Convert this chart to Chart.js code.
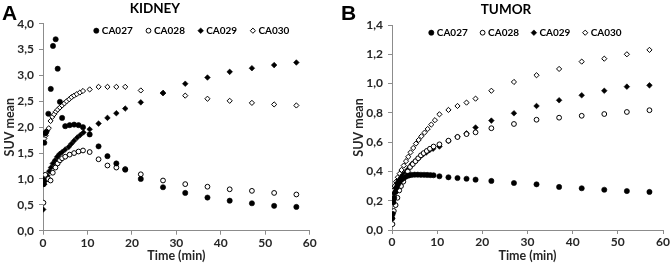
<!DOCTYPE html>
<html><head><meta charset="utf-8">
<script src="https://cdn.jsdelivr.net/npm/chart.js@4.4.1/dist/chart.umd.min.js"></script>
<style>
html,body{margin:0;padding:0;background:#fff;width:671px;height:265px;overflow:hidden;position:relative}
canvas{position:absolute;top:0}
.letter{position:absolute;z-index:2;font-family:'Liberation Sans',Arial,sans-serif;font-weight:bold;font-size:21px;line-height:21px;color:#000}
</style></head><body>
<div class="letter" style="left:2px;top:2px">A</div>
<div class="letter" style="left:341px;top:2px">B</div>
<canvas id="cA" width="335" height="265" style="left:0"></canvas>
<canvas id="cB" width="322" height="265" style="left:349px"></canvas>
<script>
// ---------- DATA ----------
const seriesNames = ['CA027', 'CA028', 'CA029', 'CA030'];

// Panel A - KIDNEY
const kidneyT027 = [0.1, 0.3, 0.5, 0.75, 1.2, 1.75, 2.25, 2.85, 3.3, 3.8, 4.3, 5, 6, 7, 8, 9, 10.5, 12.5, 14.5, 16.5, 18.5, 22, 27, 32, 37, 42, 47, 52, 57];
const kidneyCA027 = [0.90, 1.70, 1.88, 1.91, 2.26, 2.74, 3.57, 3.70, 3.13, 2.49, 2.18, 2.02, 2.04, 2.05, 2.04, 2.00, 1.86, 1.63, 1.44, 1.30, 1.18, 1.00, 0.84, 0.73, 0.64, 0.58, 0.53, 0.48, 0.46];
const kidneyT028 = [0.1, 0.5, 1.2, 1.7, 2.2, 2.8, 3.3, 3.8, 4.3, 5, 6, 7, 8, 9, 10.5, 12.5, 14.5, 16.5, 18.5, 22, 27, 32, 37, 42, 47, 52, 57];
const kidneyCA028 = [0.54, 1.08, 1.00, 0.97, 1.12, 1.22, 1.30, 1.36, 1.40, 1.43, 1.47, 1.50, 1.53, 1.55, 1.52, 1.38, 1.26, 1.22, 1.19, 1.09, 0.97, 0.90, 0.85, 0.80, 0.77, 0.73, 0.70];
const kidneyT029 = [0.05, 0.15, 0.3, 0.6, 1.0, 1.4, 1.8, 2.2, 2.7, 3.2, 3.7, 4.3, 5, 5.8, 6.4, 7, 7.7, 8.4, 9.1, 10.5, 12.5, 14.5, 16.5, 18.5, 22, 27, 32, 37, 42, 47, 52, 57];
const kidneyCA029 = [0.41, 1.00, 0.90, 0.97, 1.06, 1.15, 1.22, 1.30, 1.36, 1.43, 1.48, 1.52, 1.57, 1.62, 1.68, 1.74, 1.80, 1.85, 1.90, 1.96, 2.07, 2.18, 2.27, 2.36, 2.48, 2.66, 2.84, 2.96, 3.07, 3.14, 3.20, 3.25];
const kidneyT030 = [0.1, 0.3, 0.6, 0.9, 1.3, 1.7, 2.1, 2.5, 2.9, 3.3, 3.8, 4.3, 4.8, 5.3, 5.9, 6.4, 7, 7.6, 8.3, 9, 10.5, 12.5, 14.5, 16.5, 18.5, 22, 27, 32, 37, 42, 47, 52, 57];
const kidneyCA030 = [1.85, 1.78, 1.84, 1.93, 1.98, 2.12, 2.20, 2.25, 2.30, 2.34, 2.38, 2.42, 2.46, 2.50, 2.54, 2.58, 2.61, 2.64, 2.67, 2.70, 2.73, 2.78, 2.78, 2.78, 2.78, 2.71, 2.66, 2.61, 2.55, 2.51, 2.47, 2.44, 2.42];

// Panel B - TUMOR
const tumorT027 = [0.05, 0.15, 0.3, 0.5, 0.75, 1.0, 1.3, 1.7, 2.1, 2.6, 3.1, 3.7, 4.3, 5, 5.7, 6.4, 7.1, 7.8, 8.5, 9.2, 10.5, 12.5, 14.5, 16.5, 18.5, 22, 27, 32, 37, 42, 47, 52, 57];
const tumorCA027 = [0.08, 0.11, 0.19, 0.22, 0.26, 0.29, 0.31, 0.33, 0.345, 0.355, 0.365, 0.372, 0.376, 0.378, 0.378, 0.377, 0.377, 0.376, 0.375, 0.374, 0.367, 0.36, 0.355, 0.35, 0.344, 0.335, 0.321, 0.312, 0.294, 0.285, 0.275, 0.266, 0.26];
const tumorT028 = [0.1, 0.4, 0.8, 1.2, 1.6, 2.0, 2.5, 3.0, 3.5, 4.0, 4.6, 5.2, 5.8, 6.4, 7.0, 7.7, 8.4, 9.2, 10.5, 12.5, 14.5, 16.5, 18.5, 22, 27, 32, 37, 42, 47, 52, 57];
const tumorCA028 = [0.04, 0.13, 0.17, 0.22, 0.27, 0.30, 0.33, 0.37, 0.40, 0.43, 0.45, 0.47, 0.49, 0.51, 0.525, 0.54, 0.555, 0.57, 0.585, 0.61, 0.635, 0.655, 0.667, 0.695, 0.724, 0.753, 0.767, 0.78, 0.792, 0.806, 0.818];
const tumorT029 = [0.05, 0.15, 0.3, 0.5, 0.8, 1.1, 1.5, 2.0, 2.4, 2.9, 3.4, 3.9, 4.4, 5.0, 5.6, 6.2, 6.9, 7.6, 8.3, 9.1, 10.5, 12.5, 14.5, 16.5, 18.5, 22, 27, 32, 37, 42, 47, 52, 57];
const tumorCA029 = [0.08, 0.114, 0.205, 0.25, 0.285, 0.32, 0.34, 0.36, 0.376, 0.39, 0.41, 0.43, 0.45, 0.465, 0.483, 0.50, 0.517, 0.53, 0.545, 0.555, 0.57, 0.608, 0.637, 0.66, 0.70, 0.747, 0.797, 0.847, 0.886, 0.92, 0.951, 0.979, 0.988];
const tumorT030 = [0.1, 0.3, 0.6, 0.9, 1.3, 1.7, 2.1, 2.6, 3.1, 3.6, 4.1, 4.7, 5.3, 5.9, 6.5, 7.2, 7.9, 8.7, 9.5, 10.5, 12.5, 14.5, 16.5, 18.5, 22, 27, 32, 37, 42, 47, 52, 57];
const tumorCA030 = [0.20, 0.27, 0.30, 0.33, 0.36, 0.385, 0.41, 0.44, 0.47, 0.50, 0.53, 0.56, 0.59, 0.615, 0.64, 0.665, 0.69, 0.72, 0.75, 0.79, 0.82, 0.847, 0.87, 0.897, 0.951, 1.011, 1.057, 1.10, 1.15, 1.17, 1.20, 1.23];

// tick values
const xTicks = [0, 10, 20, 30, 40, 50, 60];
const kidneyYTicks = [0, 0.5, 1.0, 1.5, 2.0, 2.5, 3.0, 3.5, 4.0];
const tumorYTicks = [0, 0.2, 0.4, 0.6, 0.8, 1.0, 1.2, 1.4];

// ---------- STYLE ----------
const TXT = '#262626';
const AXIS = '#8c8c8c';
const FONT = 'Lato, "Open Sans", sans-serif';
const markerStyles = [
  {pointStyle: 'circle', backgroundColor: '#000', borderColor: '#000', radius: 2.6, borderWidth: 0.6},
  {pointStyle: 'circle', backgroundColor: '#fff', borderColor: '#000', radius: 2.4, borderWidth: 1},
  {pointStyle: 'rectRot', backgroundColor: '#000', borderColor: '#000', radius: 2.8, borderWidth: 0.6},
  {pointStyle: 'rectRot', backgroundColor: '#fff', borderColor: '#000', radius: 2.6, borderWidth: 1}
];

function pts(ts, vs) { return ts.map((t, i) => ({x: t, y: vs[i]})); }

function makeDatasets(list) {
  return list.map((pair, i) => {
    const s = markerStyles[i];
    return {
      label: seriesNames[i],
      data: pts(pair[0], pair[1]),
      showLine: false,
      pointStyle: s.pointStyle,
      pointRadius: s.radius,
      pointBackgroundColor: s.backgroundColor,
      pointBorderColor: s.borderColor,
      pointBorderWidth: s.borderWidth,
      backgroundColor: s.backgroundColor,
      borderColor: s.borderColor
    };
  });
}

function drawMarker(ctx, s, x, y) {
  ctx.beginPath();
  if (s.pointStyle === 'circle') {
    ctx.arc(x, y, s.radius, 0, Math.PI * 2);
  } else {
    ctx.moveTo(x - s.radius, y); ctx.lineTo(x, y - s.radius);
    ctx.lineTo(x + s.radius, y); ctx.lineTo(x, y + s.radius); ctx.closePath();
  }
  ctx.fillStyle = s.backgroundColor; ctx.fill();
  ctx.lineWidth = s.borderWidth; ctx.strokeStyle = s.borderColor; ctx.stroke();
}

const inLegend = {
  id: 'inLegend',
  afterDraw(chart, args, opts) {
    const ctx = chart.ctx, ca = chart.chartArea;
    ctx.save();
    ctx.font = 'bold 10px ' + FONT;
    ctx.textAlign = 'left'; ctx.textBaseline = 'middle';
    chart.data.datasets.forEach((ds, i) => {
      const x = ca.left + opts.x0 + i * opts.step;
      const y = ca.top + opts.y0;
      drawMarker(ctx, markerStyles[i], x, y);
      ctx.fillStyle = '#000';
      ctx.fillText(ds.label, x + 5.5, y + 0.5);
    });
    ctx.restore();
  }
};

function fmt(v) { return v.toFixed(1).replace('.', ','); }

function makeChart(id, title, datasets, yTicks, ymax, cfg) {
  const tickFont = {family: FONT, weight: 'bold', size: 12};
  const axisTitleFont = {family: FONT, weight: 'bold', size: 12.5};
  return new Chart(document.getElementById(id), {
    type: 'scatter',
    data: {datasets},
    plugins: [inLegend],
    options: {
      responsive: false, animation: false, devicePixelRatio: 1,
      layout: {padding: {left: 0, right: cfg.padRight, top: 0, bottom: 0}},
      plugins: {
        legend: {display: false},
        tooltip: {enabled: false},
        title: {display: true, text: title, color: '#000', font: {family: FONT, weight: 'bold', size: 13.5},
                padding: {top: cfg.titleTop, bottom: cfg.titleBottom}},
        inLegend: cfg.legend
      },
      scales: {
        x: {
          type: 'linear', min: 0, max: 60,
          afterBuildTicks: s => { s.ticks = xTicks.map(v => ({value: v})); },
          afterFit: s => { s.height = cfg.xHeight; },
          ticks: {color: TXT, font: tickFont, padding: 1, maxRotation: 0},
          grid: {drawOnChartArea: false, drawTicks: true, tickLength: 4, color: AXIS, tickColor: AXIS},
          border: {display: true, color: AXIS, width: 1},
          title: {display: true, text: 'Time (min)', color: TXT, font: axisTitleFont, padding: {top: 0, bottom: 2}}
        },
        y: {
          type: 'linear', min: 0, max: ymax,
          afterBuildTicks: s => { s.ticks = yTicks.map(v => ({value: v})); },
          afterFit: s => { s.width = cfg.yWidth; },
          ticks: {color: TXT, font: tickFont, padding: 5, callback: v => fmt(v)},
          grid: {drawOnChartArea: false, drawTicks: true, tickLength: 4, color: AXIS, tickColor: AXIS},
          border: {display: true, color: AXIS, width: 1},
          title: {display: true, text: 'SUV mean', color: TXT, font: axisTitleFont, padding: {top: 2, bottom: 0}}
        }
      }
    }
  });
}

makeChart('cA', 'KIDNEY', makeDatasets([
  [kidneyT027, kidneyCA027], [kidneyT028, kidneyCA028], [kidneyT029, kidneyCA029], [kidneyT030, kidneyCA030]
]), kidneyYTicks, 4, {
  padRight: 25.3, titleTop: 0.8, titleBottom: 6.7, xHeight: 34.3, yWidth: 43,
  legend: {x0: 53.3, step: 52.2, y0: 7}
});

makeChart('cB', 'TUMOR', makeDatasets([
  [tumorT027, tumorCA027], [tumorT028, tumorCA028], [tumorT029, tumorCA029], [tumorT030, tumorCA030]
]), tumorYTicks, 1.4, {
  padRight: 8, titleTop: 1.8, titleBottom: 7.0, xHeight: 35, yWidth: 43,
  legend: {x0: 39.3, step: 51.3, y0: 7.7}
});
</script>
</body></html>
